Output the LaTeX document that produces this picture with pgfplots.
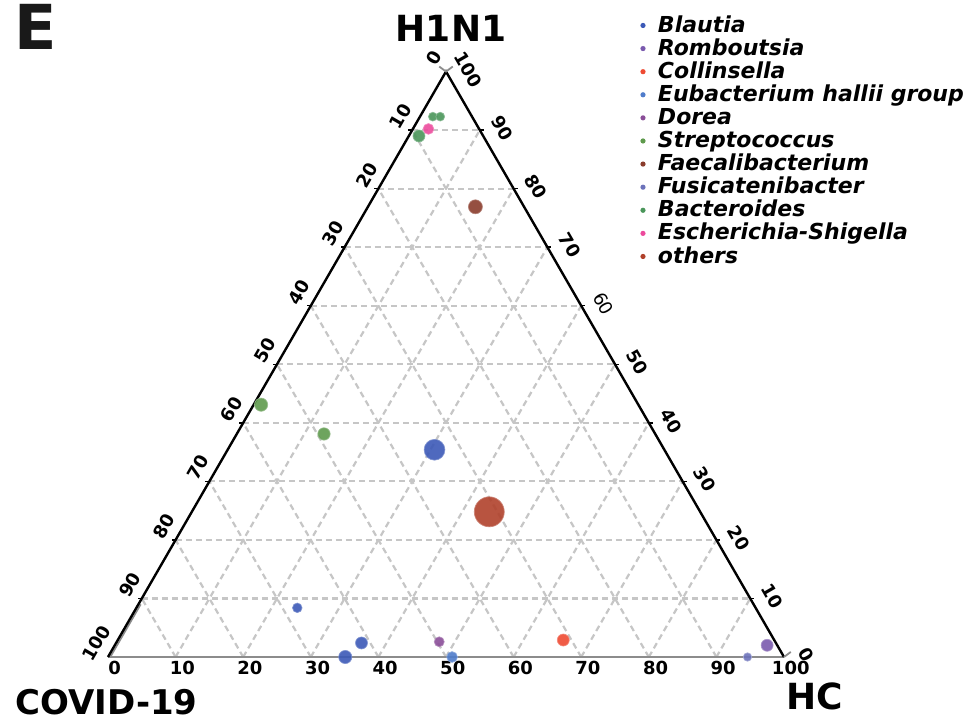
\documentclass[border=0pt]{standalone}
\usepackage{pgfplots}
\usepackage{pgfplotstable}
\pgfplotsset{compat=1.18}
\usepackage{fontspec}
\setmainfont{DejaVu Sans}

% genus colours
\definecolor{cBlautia}{HTML}{3C59B7}
\definecolor{cRomboutsia}{HTML}{7A5AAE}
\definecolor{cCollinsella}{HTML}{EE4A32}
\definecolor{cEubacterium}{HTML}{4F7CCB}
\definecolor{cDorea}{HTML}{8A4E98}
\definecolor{cStreptococcus}{HTML}{5E9A4C}
\definecolor{cFaecali}{HTML}{8A3C2C}
\definecolor{cFusicateni}{HTML}{6C72BA}
\definecolor{cBacteroides}{HTML}{4A965A}
\definecolor{cEscherichia}{HTML}{EC4A9C}
\definecolor{cOthers}{HTML}{B0412B}
\definecolor{gridgray}{HTML}{C6C6C6}
\definecolor{edgegray}{HTML}{8C8C8C}

% ternary compositions (%): COVID-19, H1N1, HC, marker radius (pt)
\pgfplotstableread{
covid h1n1 hc r
34.0 35.4 30.6 5.2
67.8  8.4 23.8 2.4
61.3  2.4 36.3 3.0
64.9  0.0 35.1 3.3
}\tBlautia
\pgfplotstableread{
covid h1n1 hc r
1.5 2.0 96.5 3.0
}\tRomboutsia
\pgfplotstableread{
covid h1n1 hc r
31.2 2.9 65.9 3.0
}\tCollinsella
\pgfplotstableread{
covid h1n1 hc r
49.1 0.0 50.9 2.7
}\tEubacterium
\pgfplotstableread{
covid h1n1 hc r
49.7 2.6 47.7 2.5
}\tDorea
\pgfplotstableread{
covid h1n1 hc r
55.8 43.1  1.1 3.3
49.0 38.1 12.9 3.1
}\tStreptococcus
\pgfplotstableread{
covid h1n1 hc r
7.2 76.9 15.9 3.5
}\tFaecali
\pgfplotstableread{
covid h1n1 hc r
5.4 0.0 94.6 2.1
}\tFusicateni
\pgfplotstableread{
covid h1n1 hc r
5.8 92.3 1.9 2.2
4.7 92.3 3.0 2.2
9.5 89.0 1.5 3.0
}\tBacteroides
\pgfplotstableread{
covid h1n1 hc r
7.5 90.2 2.3 2.7
}\tEscherichia
\pgfplotstableread{
covid h1n1 hc r
31.2 24.8 44.0 7.5
}\tOthers

\pgfplotsset{
  genus/.style={only marks, mark=*, scatter, color=#1,
    scatter/use mapped color={draw=#1!65!white, fill=#1, fill opacity=0.9, draw opacity=0.9, line width=0.35pt},
    visualization depends on={\thisrow{r} \as \msize},
    scatter/@pre marker code/.append style={/tikz/mark size=\msize},
    legend image code/.code={\path[draw=none, fill=none] (0pt,0pt) rectangle (5.2pt,1pt);
      \fill[draw=none] (2.6pt,0.75pt) circle (1.3pt);},
  },
  % barycentric -> cartesian placement of a composition
  table/tern/.style={x expr=\thisrow{hc}+0.5*\thisrow{h1n1}, y expr=0.8660254*\thisrow{h1n1}},
}

\begin{document}
\begin{tikzpicture}[
  gridline/.style={draw=gridgray, line width=1.1pt, dash pattern=on 3pt off 2pt},
  ticklab/.style={font=\fontsize{9}{10}\selectfont\bfseries, inner sep=0pt},
]
\begin{axis}[
  x=3.38pt, y=3.38pt,
  xmin=0, xmax=100, ymin=0, ymax=86.6025,
  axis lines=none, clip=false,
  legend style={at={(axis description cs:0.7837,1.0959)}, anchor=north west,
    draw=none, fill=none, inner sep=0pt, outer sep=0pt,
    row sep=0pt, column sep=4.9pt,
    font=\fontsize{11}{11.5}\selectfont\bfseries\itshape,
    nodes={inner sep=0pt, text height=8.3pt, text depth=3.25pt}},
  legend cell align=left,
]

% dashed grid, every 10 %
\pgfplotsinvokeforeach{10,20,30,40,50,60,70,80,90}{
  \draw[gridline] (axis cs:{#1/2},{#1*0.8660254}) -- (axis cs:{100-#1/2},{#1*0.8660254});
  \draw[gridline] (axis cs:#1,0) -- (axis cs:{#1+(100-#1)/2},{(100-#1)*0.8660254});
  \draw[gridline] (axis cs:{100-#1},0) -- (axis cs:{(100-#1)/2},{(100-#1)*0.8660254});
}

% triangle edges
\draw[edgegray, line width=1.35pt] (axis cs:0,0) -- (axis cs:100,0);
\draw[edgegray, line width=0.8pt] (axis cs:0.35,0) -- (axis cs:4.85,7.8);
\draw[black, line width=1.2pt, line join=miter] (axis cs:0,0) -- (axis cs:50,86.6025) -- (axis cs:100,0);
\draw[edgegray, line width=0.9pt] (axis cs:49.0,87.35) -- (axis cs:50,86.6025) -- (axis cs:51.0,87.35);
\draw[edgegray, line width=0.9pt] (axis cs:100,0) -- (axis cs:101.0,0.75);

% tick stubs
\pgfplotsinvokeforeach{10,20,30,40,50,60,70,80,90}{
  \draw[black, line width=0.7pt] (axis cs:{#1/2},{#1*0.8660254}) -- ++(-2pt,0pt);
  \draw[black, line width=0.7pt] (axis cs:{100-#1/2},{#1*0.8660254}) -- ++(2pt,0pt);
}

% tick labels: HC along the base, COVID-19 on the left, H1N1 on the right
\pgfplotsinvokeforeach{0,10,20,30,40,50,60,70,80,90,100}{
  \node[ticklab] at (axis cs:{#1+1.0},-1.63) {#1};
  \node[ticklab, rotate=60] at (axis cs:{(100-#1)/2-1.73},{(100-#1)*0.8660254+2.03}) {#1};
}
\pgfplotsinvokeforeach{0,10,20,30,40,50,70,80,90,100}{
  \node[ticklab, rotate=-60] at (axis cs:{100-#1/2+3.3},{#1*0.8660254+0.3}) {#1};
}
\node[font=\fontsize{9}{10}\selectfont, inner sep=0pt, rotate=-60] at (axis cs:{100-30+3.3},{60*0.8660254+0.3}) {60};

% vertex titles and panel letter
\node[font=\fontsize{18}{18}\selectfont\bfseries, inner sep=0pt] at (axis cs:50.74,92.97) {H1N1};
\node[font=\fontsize{17}{17}\selectfont\bfseries, inner sep=0pt] at (axis cs:-0.22,-6.6) {COVID-19};
\node[font=\fontsize{18}{18}\selectfont\bfseries, inner sep=0pt] at (axis cs:104.59,-5.84) {HC};
\node[font=\fontsize{31}{31}\selectfont\bfseries, inner sep=0pt, text=black!90] at (axis cs:-10.65,93.27) {E};

% genera
\addplot[genus=cBlautia] table[tern] {\tBlautia};
\addlegendentry{Blautia}
\addplot[genus=cRomboutsia] table[tern] {\tRomboutsia};
\addlegendentry{Romboutsia}
\addplot[genus=cCollinsella] table[tern] {\tCollinsella};
\addlegendentry{Collinsella}
\addplot[genus=cEubacterium] table[tern] {\tEubacterium};
\addlegendentry{Eubacterium hallii group}
\addplot[genus=cDorea] table[tern] {\tDorea};
\addlegendentry{Dorea}
\addplot[genus=cStreptococcus] table[tern] {\tStreptococcus};
\addlegendentry{Streptococcus}
\addplot[genus=cFaecali] table[tern] {\tFaecali};
\addlegendentry{Faecalibacterium}
\addplot[genus=cFusicateni] table[tern] {\tFusicateni};
\addlegendentry{Fusicatenibacter}
\addplot[genus=cBacteroides] table[tern] {\tBacteroides};
\addlegendentry{Bacteroides}
\addplot[genus=cEscherichia] table[tern] {\tEscherichia};
\addlegendentry{Escherichia-Shigella}
\addplot[genus=cOthers] table[tern] {\tOthers};
\addlegendentry{others}

\coordinate (bbSW) at (axis cs:-15.976,-9.467);
\coordinate (bbNE) at (axis cs:128.40,97.19);
\end{axis}
\pgfresetboundingbox
\path[use as bounding box] (bbSW) rectangle (bbNE);
\end{tikzpicture}
\end{document}
